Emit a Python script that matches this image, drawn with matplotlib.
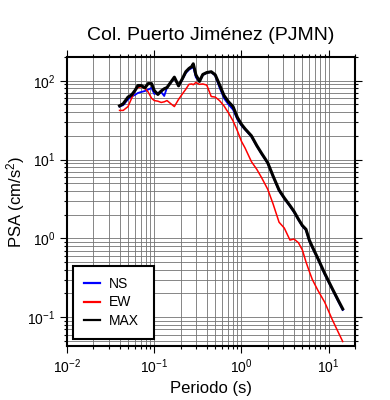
import matplotlib
matplotlib.use("Agg")
import matplotlib.pyplot as plt
from matplotlib.ticker import LogLocator, NullFormatter

plt.rcParams['font.family'] = ['Liberation Sans', 'DejaVu Sans']
plt.rcParams['mathtext.fontset'] = 'custom'
plt.rcParams['mathtext.rm'] = 'Liberation Sans'
plt.rcParams['mathtext.it'] = 'Liberation Sans'
plt.rcParams['mathtext.default'] = 'regular'

# periodo (s)
periodo = [0.040, 0.044, 0.050, 0.055, 0.060, 0.065, 0.071, 0.078, 0.085, 0.093,
           0.100, 0.110, 0.120, 0.130, 0.140, 0.155, 0.170, 0.190, 0.210, 0.230,
           0.250, 0.270, 0.280, 0.300, 0.330, 0.360, 0.400, 0.450, 0.500, 0.560,
           0.630, 0.710, 0.800, 0.900, 1.00, 1.10, 1.30, 1.50, 1.70, 2.00,
           2.30, 2.70, 3.10, 3.60, 4.00, 4.50, 5.00, 5.50, 6.00, 6.50,
           7.50, 9.00, 11.0, 13.0, 14.5]

psa_max = [48, 51, 62, 66, 75, 87, 87, 81, 92, 92,
           75, 67, 74, 79, 82, 96, 111, 86, 106, 130,
           143, 152, 164, 119, 98, 120, 127, 130, 119, 89,
           65, 54, 47, 34, 28, 24.5, 20, 15, 12, 9.1,
           6.2, 4.1, 3.25, 2.6, 2.2, 1.75, 1.45, 1.3, 0.95, 0.78,
           0.56, 0.36, 0.23, 0.16, 0.127]

psa_ns = [47, 49, 58, 63, 66, 70, 72, 74, 77, 81,
          68, 70, 72, 64, 82, 95, 108, 86, 104, 125,
          138, 145, 150, 110, 98, 118, 126, 129, 116, 82,
          60, 50, 43, 32, 27, 24, 19.5, 14.8, 11.8, 9.0,
          6.1, 4.0, 3.2, 2.55, 2.15, 1.72, 1.42, 1.27, 0.93, 0.76,
          0.55, 0.35, 0.225, 0.155, 0.123]

psa_ew = [42, 42, 47, 60, 75, 82, 84, 80, 72, 60,
          56, 55, 53, 54, 56, 51, 47, 58, 68, 78,
          90, 91, 89, 95, 90, 91, 88, 63, 62, 56,
          48, 39, 31, 23, 17, 14, 9.4, 7.5, 5.9, 4.2,
          2.75, 1.6, 1.35, 0.95, 0.98, 0.88, 0.71, 0.5, 0.38, 0.30,
          0.22, 0.155, 0.093, 0.063, 0.049]

fig = plt.figure(figsize=(3.9, 4.0), dpi=100)
ax = fig.add_axes([0.172, 0.135, 0.738, 0.7225])

ax.plot(periodo, psa_ns, color='#0000ff', lw=1.3, label='NS', zorder=3)
ax.plot(periodo, psa_ew, color='#ff0000', lw=1.1, label='EW', zorder=3)
ax.plot(periodo, psa_max, color='black', lw=2.2, label='MAX', zorder=4)

ax.set_xscale('log')
ax.set_yscale('log')
ax.set_xlim(0.01, 20)
ax.set_ylim(0.043, 200)

for axis in (ax.xaxis, ax.yaxis):
    axis.set_major_locator(LogLocator(base=10, numticks=10))
    axis.set_minor_locator(LogLocator(base=10, subs=range(2, 10), numticks=20))
    axis.set_minor_formatter(NullFormatter())

ax.grid(True, which='both', color='0.45', lw=0.6, zorder=0)
ax.set_axisbelow(True)

ax.tick_params(which='both', direction='out', top=True, right=True,
               labeltop=False, labelright=False, width=0.8, labelsize=10)
ax.tick_params(which='major', length=5)
ax.tick_params(which='minor', length=2.5)
for s in ax.spines.values():
    s.set_linewidth(1.5)

ax.set_xlabel('Periodo (s)', fontsize=12, labelpad=3)
ax.set_ylabel('PSA (cm/s$^2$)', fontsize=12, labelpad=0)
ax.set_title('Col. Puerto Jiménez (PJMN)', fontsize=14, pad=12)

leg = ax.legend(loc='lower left', bbox_to_anchor=(0.021, 0.025, 0.28, 0.245),
                mode='expand', fontsize=10, frameon=True, fancybox=False,
                edgecolor='black', framealpha=1, borderpad=0.8,
                handlelength=1.15, handletextpad=0.65, labelspacing=0.3,
                borderaxespad=0)
leg.get_frame().set_linewidth(1.5)
for h in leg.get_lines():
    h.set_linewidth(1.6)

fig.savefig('out.png', dpi=100)
